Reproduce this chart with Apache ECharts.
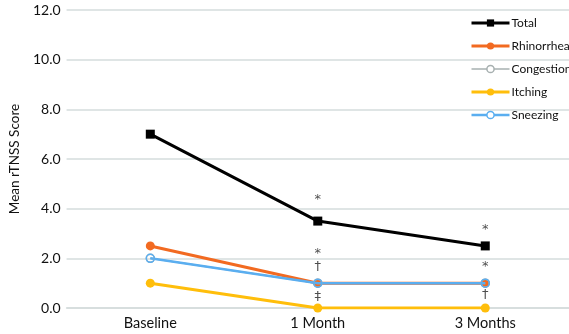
<!DOCTYPE html>
<html><head><meta charset="utf-8">
<script src="https://cdn.jsdelivr.net/npm/echarts@6/dist/echarts.min.js"></script>
<style>html,body{margin:0;padding:0;background:#fff}#c{width:569px;height:334px}</style>
</head><body><div id="c"></div>
<script>
const categories = ['Baseline', '1 Month', '3 Months'];
const total = [7.0, 3.5, 2.5];
const rhinorrhea = [2.5, 1.0, 1.0];
const congestion = [2.0, 1.0, 1.0];
const itching = [1.0, 0.0, 0.0];
const sneezing = [2.0, 1.0, 1.0];
const yTicks = [0, 2, 4, 6, 8, 10, 12];
// significance marks: [category, y value, symbol]
const marks = [
  ['1 Month', 4.35, '*'], ['3 Months', 3.15, '*'],
  ['1 Month', 2.2, '*'], ['1 Month', 1.65, '†'], ['1 Month', 0.45, '‡'],
  ['3 Months', 1.65, '*'], ['3 Months', 0.55, '†']
];
const FONT = 'Lato';
const chart = echarts.init(document.getElementById('c'));
function lineSeries(name, data, color, width, size, hollow, z) {
  return {
    name, type: 'line', data, z,
    symbol: 'circle', symbolSize: size, showSymbol: true,
    lineStyle: { color, width },
    itemStyle: hollow
      ? { color: 'rgba(255,255,255,0)', borderColor: color, borderWidth: 1.5 }
      : { color, borderWidth: 0 },
    emphasis: { disabled: true }
  };
}
const totalSeries = lineSeries('Total', total, '#000000', 3, 9, false, 5);
totalSeries.symbol = 'rect';
chart.setOption({
  animation: false,
  textStyle: { fontFamily: FONT },
  grid: { left: 55, right: 0, top: 10, bottom: 26 },
  legend: {
    orient: 'vertical', left: 470, top: 17, itemWidth: 38, itemHeight: 9, itemGap: 11, padding: 0,
    textStyle: { fontFamily: FONT, fontSize: 12, color: '#111', padding: [0, 0, 0, -3] },
    data: [
      { name: 'Total', lineStyle: { width: 3 } },
      { name: 'Rhinorrhea', lineStyle: { width: 3 } },
      { name: 'Congestion', lineStyle: { width: 1.5 }, itemStyle: { color: '#fff', borderColor: '#a7b0b0', borderWidth: 1.5 } },
      { name: 'Itching', lineStyle: { width: 3 } },
      { name: 'Sneezing', lineStyle: { width: 2.5 }, itemStyle: { color: '#fff', borderColor: '#5aaef0', borderWidth: 1.5 } }
    ]
  },
  xAxis: {
    type: 'category', data: categories, boundaryGap: true,
    axisLine: { show: true, lineStyle: { color: '#d5dcdc', width: 1.5 } },
    axisTick: { show: false },
    axisLabel: { color: '#111', fontSize: 14.5, fontFamily: FONT, margin: 8 }
  },
  yAxis: {
    type: 'value', min: yTicks[0], max: yTicks[yTicks.length - 1], interval: 2,
    name: 'Mean rTNSS Score', nameLocation: 'middle', nameGap: 43,
    nameTextStyle: { fontSize: 13.5, color: '#111', fontFamily: FONT },
    axisLine: { show: false }, axisTick: { show: false },
    axisLabel: { color: '#111', fontSize: 14, fontFamily: FONT, margin: 6, formatter: v => v.toFixed(1) },
    splitLine: { lineStyle: { color: '#d5dcdc', width: 1.5 } }
  },
  series: [
    totalSeries,
    lineSeries('Rhinorrhea', rhinorrhea, '#f26a21', 3, 9, false, 2),
    lineSeries('Congestion', congestion, '#a7b0b0', 1.5, 8, true, 3),
    lineSeries('Itching', itching, '#ffbe0b', 3, 9, false, 4),
    lineSeries('Sneezing', sneezing, '#5aaef0', 2.5, 8, true, 3),
    {
      type: 'scatter', symbolSize: 0, z: 10, silent: true,
      data: marks.map(m => ({ value: [m[0], m[1]], label: { formatter: m[2] } })),
      label: { show: true, position: 'inside', color: '#222', fontSize: 13, fontFamily: 'DejaVu Sans' }
    }
  ]
});
</script></body></html>
